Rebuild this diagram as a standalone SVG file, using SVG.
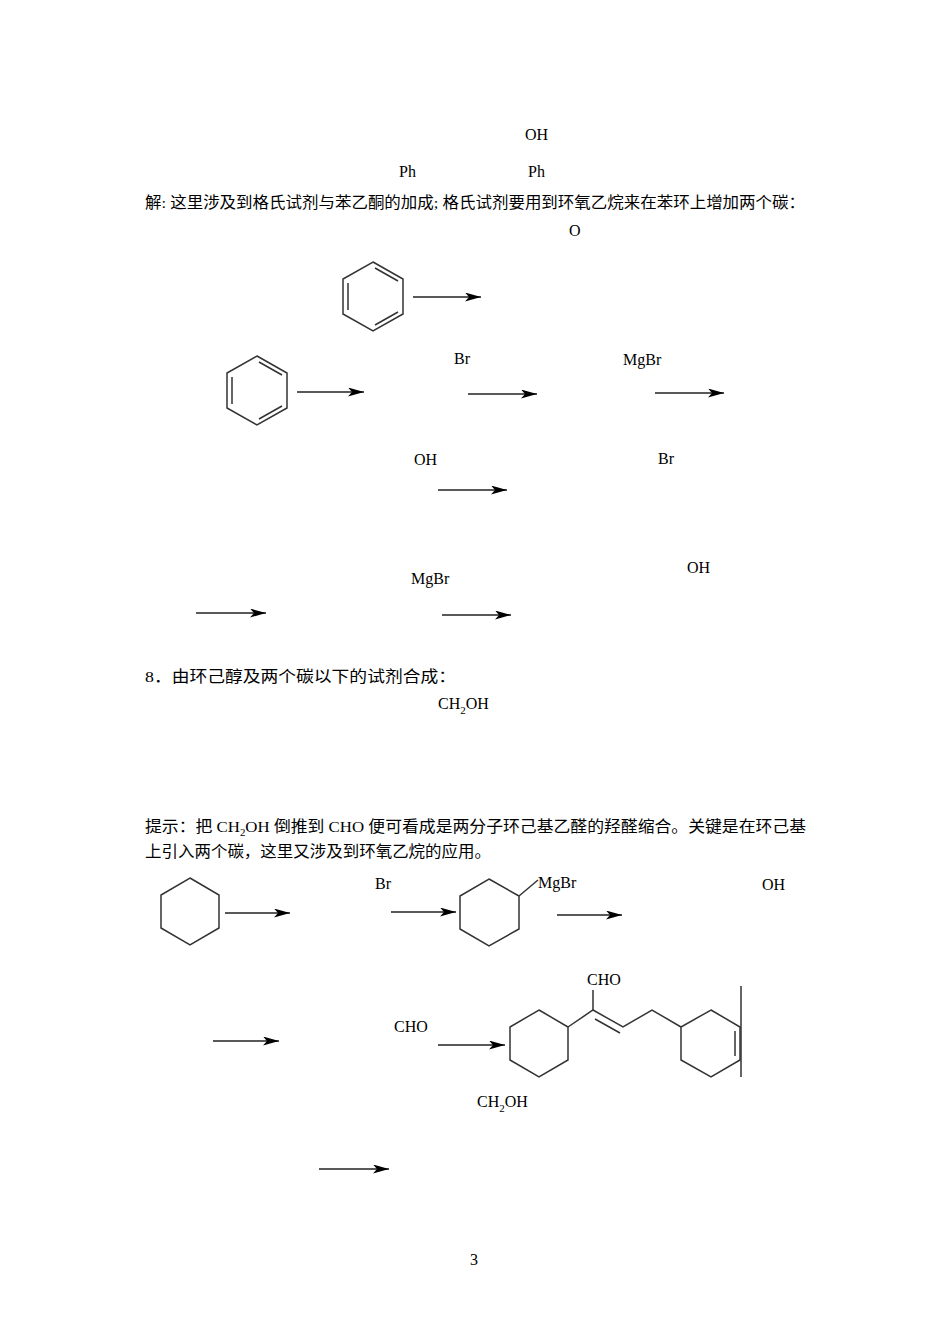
<svg xmlns="http://www.w3.org/2000/svg" width="950" height="1344" viewBox="0 0 950 1344">
<style>
text{font-family:"Liberation Serif","Noto Sans CJK SC",serif;font-size:16px;fill:#000}
.cn{font-size:15.5px}
.b{fill:none;stroke:#333;stroke-width:1.5}
.a{stroke:#222;stroke-width:1.5;marker-end:url(#ar)}
</style>
<defs><marker id="ar" markerWidth="16" markerHeight="9" refX="16" refY="4.5" orient="auto" markerUnits="userSpaceOnUse"><path d="M0,0L16,4.5L0,9L4,4.5Z" fill="#000"/></marker></defs>
<rect width="950" height="1344" fill="#fff"/>
<g id="texts">
<text x="525" y="140">OH</text>
<text x="399" y="177">Ph</text>
<text x="528" y="177">Ph</text>
<text x="145" y="208" class="cn" textLength="660" lengthAdjust="spacingAndGlyphs">解: 这里涉及到格氏试剂与苯乙酮的加成; 格氏试剂要用到环氧乙烷来在苯环上增加两个碳：</text>
<text x="569" y="236">O</text>
<text x="454" y="364">Br</text>
<text x="623" y="365">MgBr</text>
<text x="414" y="465">OH</text>
<text x="658" y="464">Br</text>
<text x="411" y="584">MgBr</text>
<text x="687" y="573">OH</text>
<text x="145" y="682" class="cn" textLength="311" lengthAdjust="spacingAndGlyphs">8．由环己醇及两个碳以下的试剂合成：</text>
<text x="438" y="709">CH<tspan font-size="11" dy="5">2</tspan><tspan dy="-5">OH</tspan></text>
<text x="145" y="832" class="cn" textLength="661" lengthAdjust="spacingAndGlyphs">提示：把 CH<tspan font-size="10" dy="4">2</tspan><tspan dy="-4">OH 倒推到 CHO 便可看成是两分子环己基乙醛的羟醛缩合。关键是在环己基</tspan></text>
<text x="145" y="857" class="cn" textLength="346" lengthAdjust="spacingAndGlyphs">上引入两个碳，这里又涉及到环氧乙烷的应用。</text>
<text x="375" y="889">Br</text>
<text x="538" y="888">MgBr</text>
<text x="762" y="890">OH</text>
<text x="587" y="985">CHO</text>
<text x="394" y="1032">CHO</text>
<text x="477" y="1107">CH<tspan font-size="11" dy="5">2</tspan><tspan dy="-5">OH</tspan></text>
<text x="470" y="1265" font-size="13">3</text>
</g>
<g id="benzene1" class="b"><path d="M373,262L403,279L403,314L373,331L343,314L343,279Z"/><path d="M348,283V310M375,268L398,281M375,325L398,312"/></g>
<g id="benzene2" class="b"><path d="M257,356L287,373L287,408L257,425L227,408L227,373Z"/><path d="M232,377V404M259,362L282,375M259,419L282,406"/></g>
<g id="cyclohexane1" class="b"><path d="M190,878L219,895L219,928L190,945L161,928L161,895Z"/></g>
<g id="cyclohexane2" class="b"><path d="M489,879L519,896L519,929L489,946L460,929L460,896Z"/><path d="M519,896L538,880"/></g>
<g id="product" class="b">
<path d="M539,1010L568,1027L568,1060L539,1077L510,1060L510,1027Z"/>
<path d="M568,1027L593,1010L623,1027L652,1010L681,1027"/>
<path d="M593,1010V990M595,1019L620,1033"/>
<path d="M711,1010L740,1027L740,1060L711,1077L681,1060L681,1027Z"/>
<path d="M735,1031V1056M741,986V1077"/>
</g>
<g id="connectors">
<line class="a" x1="413" y1="297" x2="481" y2="297"/>
<line class="a" x1="297" y1="392" x2="364" y2="392"/>
<line class="a" x1="468" y1="394" x2="537" y2="394"/>
<line class="a" x1="655" y1="393" x2="724" y2="393"/>
<line class="a" x1="438" y1="490" x2="507" y2="490"/>
<line class="a" x1="196" y1="613" x2="266" y2="613"/>
<line class="a" x1="442" y1="615" x2="511" y2="615"/>
<line class="a" x1="225" y1="913" x2="290" y2="913"/>
<line class="a" x1="391" y1="912" x2="456" y2="912"/>
<line class="a" x1="557" y1="915" x2="622" y2="915"/>
<line class="a" x1="213" y1="1041" x2="279" y2="1041"/>
<line class="a" x1="438" y1="1045" x2="505" y2="1045" stroke-width="2.2"/>
<line class="a" x1="319" y1="1169" x2="389" y2="1169"/>
</g>
</svg>
